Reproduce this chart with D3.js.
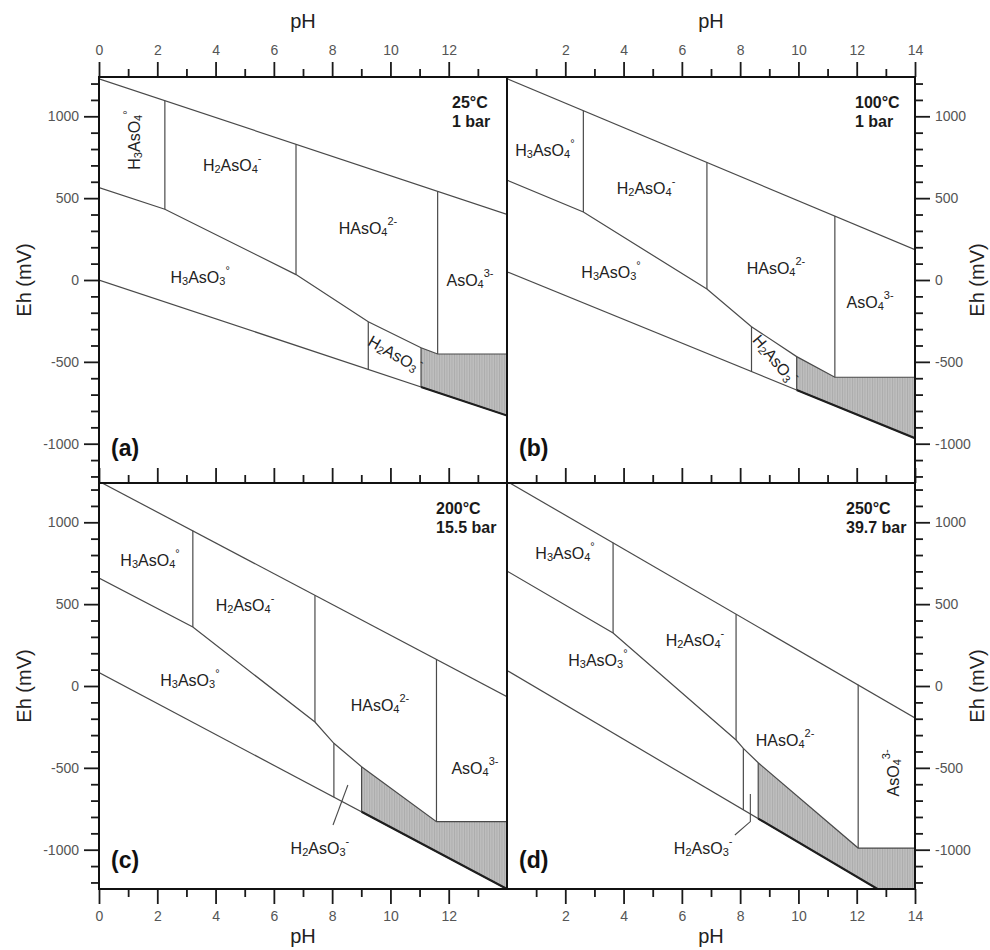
<!DOCTYPE html>
<html>
<head>
<meta charset="utf-8">
<script src="https://cdn.jsdelivr.net/npm/d3@7"></script>
<style>
  body { margin: 0; background: #fff; }
  svg { display: block; }
</style>
</head>
<body>
<svg id="chart" width="990" height="950"></svg>
<script>
// ---- Axis ticks ----
const phMajorA = [0, 2, 4, 6, 8, 10, 12];
const phMinorA = [1, 3, 5, 7, 9, 11, 13];
const phMajorB = [2, 4, 6, 8, 10, 12, 14];
const phMinorB = [1, 3, 5, 7, 9, 11, 13];
const ehMajor = [-1000, -500, 0, 500, 1000];
const ehMinor = [-1200, -1100, -900, -800, -700, -600, -400, -300, -200, -100,
                 100, 200, 300, 400, 600, 700, 800, 900, 1100, 1200];

// ---- Panel captions ----
const panelTags = ["(a)", "(b)", "(c)", "(d)"];
const temperatures = ["25°C", "100°C", "200°C", "250°C"];
const pressures = ["1 bar", "1 bar", "15.5 bar", "39.7 bar"];

// ---- Water stability limits [pH, Eh mV] ----
const upperWater = [
  [[0, 1229], [14, 401]],
  [[0, 1230], [14, 185]],
  [[0, 1250], [14, -65]],
  [[0, 1250], [14, -195]]
];
const lowerWater = [
  [[0, 0], [14, -828]],
  [[0, 50], [14, -967]],
  [[0, 82], [14, -1240]],
  [[0, 95], [14, -1375]]
];

// ---- Species boundaries (polylines, [pH, Eh mV]) ----
const boundaries25C = [
  [[0, 565], [2.26, 432], [6.76, 33], [9.24, -255], [11.05, -414], [11.62, -452], [14, -452]],
  [[2.26, 1095], [2.26, 432]],
  [[6.76, 829], [6.76, 33]],
  [[9.24, -255], [9.24, -547]],
  [[11.05, -414], [11.05, -654]],
  [[11.62, 542], [11.62, -452]]
];
const boundaries100C = [
  [[0, 610], [2.62, 415], [6.86, -55], [8.39, -285], [9.94, -468], [11.25, -594], [14, -594]],
  [[2.62, 1034], [2.62, 415]],
  [[6.86, 718], [6.86, -55]],
  [[8.39, -285], [8.39, -560]],
  [[9.94, -468], [9.94, -672]],
  [[11.25, 391], [11.25, -594]]
];
const boundaries200C = [
  [[0, 660], [3.22, 360], [7.41, -220], [8.06, -350], [9.01, -493], [11.58, -829], [14, -829]],
  [[3.22, 948], [3.22, 360]],
  [[7.41, 554], [7.41, -220]],
  [[8.06, -350], [8.06, -679]],
  [[9.01, -493], [9.01, -768]],
  [[11.58, 163], [11.58, -829]]
];
const boundaries250C = [
  [[0, 702], [3.64, 324], [7.86, -330], [8.11, -381], [8.62, -469], [12.05, -990], [14, -990]],
  [[3.64, 875], [3.64, 324]],
  [[7.86, 439], [7.86, -330]],
  [[8.11, -381], [8.11, -757]],
  [[8.62, -469], [8.62, -810]],
  [[12.05, 7], [12.05, -990]]
];

// ---- Shaded fields below the arsenite/arsenate fields ----
const shaded25C = [[11.05, -414], [11.62, -452], [14, -452], [14, -828], [11.05, -654]];
const shaded100C = [[9.94, -468], [11.25, -594], [14, -594], [14, -967], [9.94, -672]];
const shaded200C = [[9.01, -493], [11.58, -829], [14, -829], [14, -1240], [9.01, -768]];
const shaded250C = [[8.62, -469], [12.05, -990], [14, -990], [14, -1375], [8.62, -810]];

// ---- Heavy lower edge of the shaded fields ----
const heavyEdges = [
  [[11.05, -654], [14, -828]],
  [[9.94, -672], [14, -967]],
  [[9.01, -768], [14, -1240]],
  [[8.62, -810], [14, -1375]]
];

// ---- Leader lines for small fields ----
const leaders = [
  null,
  null,
  [[8.03, -849], [8.54, -605]],
  [[7.82, -910], [8.35, -828], [8.35, -660]]
];

// ---- Species labels: formula (_ subscript, ^ superscript), position [pH, Eh], rotation ----
const labels25C = [
  { f: "H_3AsO_4^°", ph: 1.20, eh: 855, rot: -90 },
  { f: "H_2AsO_4^-", ph: 4.57, eh: 703, rot: 0 },
  { f: "HAsO_4^2-", ph: 9.23, eh: 318, rot: 0 },
  { f: "H_3AsO_3^°", ph: 3.47, eh: 18, rot: 0 },
  { f: "AsO_4^3-", ph: 12.73, eh: 0, rot: 0 },
  { f: "H_2AsO_3^-", ph: 10.16, eh: -452, rot: 30 }
];
const labels100C = [
  { f: "H_3AsO_4^°", ph: 1.30, eh: 794, rot: 0 },
  { f: "H_2AsO_4^-", ph: 4.77, eh: 562, rot: 0 },
  { f: "H_3AsO_3^°", ph: 3.57, eh: 49, rot: 0 },
  { f: "HAsO_4^2-", ph: 9.23, eh: 73, rot: 0 },
  { f: "AsO_4^3-", ph: 12.46, eh: -134, rot: 0 },
  { f: "H_2AsO_3^-", ph: 9.20, eh: -483, rot: 50 }
];
const labels200C = [
  { f: "H_3AsO_4^°", ph: 1.75, eh: 770, rot: 0 },
  { f: "H_2AsO_4^-", ph: 5.01, eh: 495, rot: 0 },
  { f: "H_3AsO_3^°", ph: 3.12, eh: 37, rot: 0 },
  { f: "HAsO_4^2-", ph: 9.64, eh: -116, rot: 0 },
  { f: "AsO_4^3-", ph: 12.9, eh: -501, rot: 0 },
  { f: "H_2AsO_3^-", ph: 7.58, eh: -990, rot: 0 }
];
const labels250C = [
  { f: "H_3AsO_4^°", ph: 1.99, eh: 812, rot: 0 },
  { f: "H_2AsO_4^-", ph: 6.45, eh: 281, rot: 0 },
  { f: "H_3AsO_3^°", ph: 3.12, eh: 159, rot: 0 },
  { f: "HAsO_4^2-", ph: 9.54, eh: -330, rot: 0 },
  { f: "AsO_4^3-", ph: 13.25, eh: -531, rot: -90 },
  { f: "H_2AsO_3^-", ph: 6.73, eh: -990, rot: 0 }
];

const boundaries = [boundaries25C, boundaries100C, boundaries200C, boundaries250C];
const shaded = [shaded25C, shaded100C, shaded200C, shaded250C];
const labels = [labels25C, labels100C, labels200C, labels250C];

// ---- Layout ----
const plotLeft = 99, plotTop = 77, panelW = 408, panelH = 406;
const tickFont = "'Liberation Sans Narrow', 'Arial Narrow', 'Liberation Sans', Arial, sans-serif";
const textFont = "'Liberation Sans', Arial, Helvetica, sans-serif";

const svg = d3.select("#chart");
const defs = svg.append("defs");

// fine vertical-line hatch for the shaded fields
const pat = defs.append("pattern")
  .attr("id", "hatch").attr("patternUnits", "userSpaceOnUse")
  .attr("width", 2.5).attr("height", 10);
pat.append("rect").attr("width", 2.5).attr("height", 10).attr("fill", "#bebebe");
pat.append("line").attr("x1", 0.5).attr("x2", 0.5).attr("y1", 0).attr("y2", 10)
  .attr("stroke", "#a6a6a6").attr("stroke-width", 0.8);

const x = d3.scaleLinear().domain([0, 14]).range([0, panelW]);
const y = d3.scaleLinear().domain([1240, -1240]).range([0, panelH]);
const line = d3.line().x(d => x(d[0])).y(d => y(d[1]));
const plainNumber = d => String(d);

function formulaParts(s) {
  const out = [];
  let buf = "";
  for (let i = 0; i < s.length; i++) {
    const c = s[i];
    if (c === "_") {
      if (buf) { out.push([buf, ""]); buf = ""; }
      out.push([s[i + 1], "sub"]); i++;
    } else if (c === "^") {
      if (buf) { out.push([buf, ""]); buf = ""; }
      out.push([s.slice(i + 1), "sup"]);
      return out;
    } else buf += c;
  }
  if (buf) out.push([buf, ""]);
  return out;
}

function styleAxis(g, labelled) {
  g.select(".domain").remove();
  g.selectAll(".tick line").attr("stroke", "#1a1a1a").attr("stroke-width", 1.8);
  g.selectAll(".tick text")
    .attr("font-family", tickFont).attr("font-size", 14).attr("fill", "#555");
  if (!labelled) g.selectAll(".tick text").remove();
}

[0, 1, 2, 3].forEach(i => {
  const col = i % 2, row = Math.floor(i / 2);
  const g = svg.append("g")
    .attr("transform", `translate(${plotLeft + col * panelW},${plotTop + row * panelH})`);

  defs.append("clipPath").attr("id", "clip" + i)
    .append("rect").attr("width", panelW).attr("height", panelH);
  const body = g.append("g").attr("clip-path", `url(#clip${i})`);

  // shaded field
  body.append("path")
    .attr("d", line(shaded[i]) + "Z")
    .attr("fill", "url(#hatch)").attr("stroke", "none");

  // water limits and species boundaries
  body.selectAll("path.bound")
    .data([upperWater[i], lowerWater[i], ...boundaries[i]])
    .join("path").attr("class", "bound")
    .attr("d", line)
    .attr("fill", "none").attr("stroke", "#4a4a4a").attr("stroke-width", 1.2);

  body.append("path").attr("d", line(heavyEdges[i]))
    .attr("fill", "none").attr("stroke", "#1e1e1e").attr("stroke-width", 2.2);

  if (leaders[i]) {
    body.append("path").attr("d", line(leaders[i]))
      .attr("fill", "none").attr("stroke", "#4a4a4a").attr("stroke-width", 1.1);
  }

  // species labels
  labels[i].forEach(l => {
    const t = g.append("text")
      .attr("transform", `translate(${x(l.ph)},${y(l.eh)}) rotate(${l.rot})`)
      .attr("text-anchor", "middle").attr("dominant-baseline", "central")
      .attr("font-family", textFont).attr("font-size", 16).attr("fill", "#222");
    formulaParts(l.f).forEach(([s, kind]) => {
      const ts = t.append("tspan").text(s);
      if (kind === "sub") ts.attr("font-size", 11).attr("baseline-shift", -4);
      if (kind === "sup") ts.attr("font-size", 11).attr("baseline-shift", 7);
    });
  });

  // temperature / pressure
  const tx = [353, 348, 337, 339][i];
  g.append("text").attr("x", tx).attr("y", 31)
    .attr("font-family", textFont).attr("font-size", 16).attr("font-weight", "bold")
    .attr("fill", "#1a1a1a").text(temperatures[i]);
  g.append("text").attr("x", tx).attr("y", 50)
    .attr("font-family", textFont).attr("font-size", 16).attr("font-weight", "bold")
    .attr("fill", "#1a1a1a").text(pressures[i]);

  // panel tag
  g.append("text").attr("x", 12).attr("y", row === 0 ? panelH - 27 : panelH - 21)
    .attr("font-family", textFont).attr("font-size", 23).attr("font-weight", "bold")
    .attr("fill", "#111").text(panelTags[i]);

  // pH axes
  const phMajor = col === 0 ? phMajorA : phMajorB;
  const phMinor = col === 0 ? phMinorA : phMinorB;
  if (row === 0) {
    g.append("g").call(d3.axisTop(x).tickValues(phMinor).tickSize(8)).call(s => styleAxis(s, false));
    g.append("g").call(d3.axisTop(x).tickValues(phMajor).tickSize(15).tickPadding(7)
      .tickFormat(plainNumber)).call(s => styleAxis(s, true));
    // ticks along the shared horizontal edge, pointing up into the upper panel
    const gb = g.append("g").attr("transform", `translate(0,${panelH})`);
    gb.append("g").call(d3.axisBottom(x).tickValues(phMinor).tickSize(-8)).call(s => styleAxis(s, false));
    gb.append("g").call(d3.axisBottom(x).tickValues(phMajor).tickSize(-15)).call(s => styleAxis(s, false));
  } else {
    const gb = g.append("g").attr("transform", `translate(0,${panelH})`);
    gb.append("g").call(d3.axisBottom(x).tickValues(phMinor).tickSize(8)).call(s => styleAxis(s, false));
    gb.append("g").call(d3.axisBottom(x).tickValues(phMajor).tickSize(15).tickPadding(7)
      .tickFormat(plainNumber)).call(s => styleAxis(s, true));
  }

  // Eh axes
  if (col === 0) {
    g.append("g").call(d3.axisLeft(y).tickValues(ehMinor).tickSize(8)).call(s => styleAxis(s, false));
    g.append("g").call(d3.axisLeft(y).tickValues(ehMajor).tickSize(15).tickPadding(5)
      .tickFormat(plainNumber)).call(s => styleAxis(s, true));
  } else {
    const gr = g.append("g").attr("transform", `translate(${panelW},0)`);
    gr.append("g").call(d3.axisRight(y).tickValues(ehMinor).tickSize(8)).call(s => styleAxis(s, false));
    gr.append("g").call(d3.axisRight(y).tickValues(ehMajor).tickSize(15).tickPadding(5)
      .tickFormat(plainNumber)).call(s => styleAxis(s, true));
  }

  // frame
  g.append("rect").attr("width", panelW).attr("height", panelH)
    .attr("fill", "none").attr("stroke", "#111").attr("stroke-width", 2);
});

// axis titles
const titles = svg.append("g").attr("font-family", textFont).attr("fill", "#222").attr("font-size", 20);
[plotLeft + panelW / 2, plotLeft + panelW * 1.5].forEach(cx => {
  titles.append("text").attr("x", cx).attr("y", 28).attr("text-anchor", "middle").text("pH");
  titles.append("text").attr("x", cx).attr("y", 943).attr("text-anchor", "middle").text("pH");
});
[plotTop + panelH / 2, plotTop + panelH * 1.5].forEach(cy => {
  titles.append("text").attr("transform", `translate(31,${cy}) rotate(-90)`)
    .attr("text-anchor", "middle").text("Eh (mV)");
  titles.append("text").attr("transform", `translate(984,${cy}) rotate(-90)`)
    .attr("text-anchor", "middle").text("Eh (mV)");
});
</script>
</body>
</html>
